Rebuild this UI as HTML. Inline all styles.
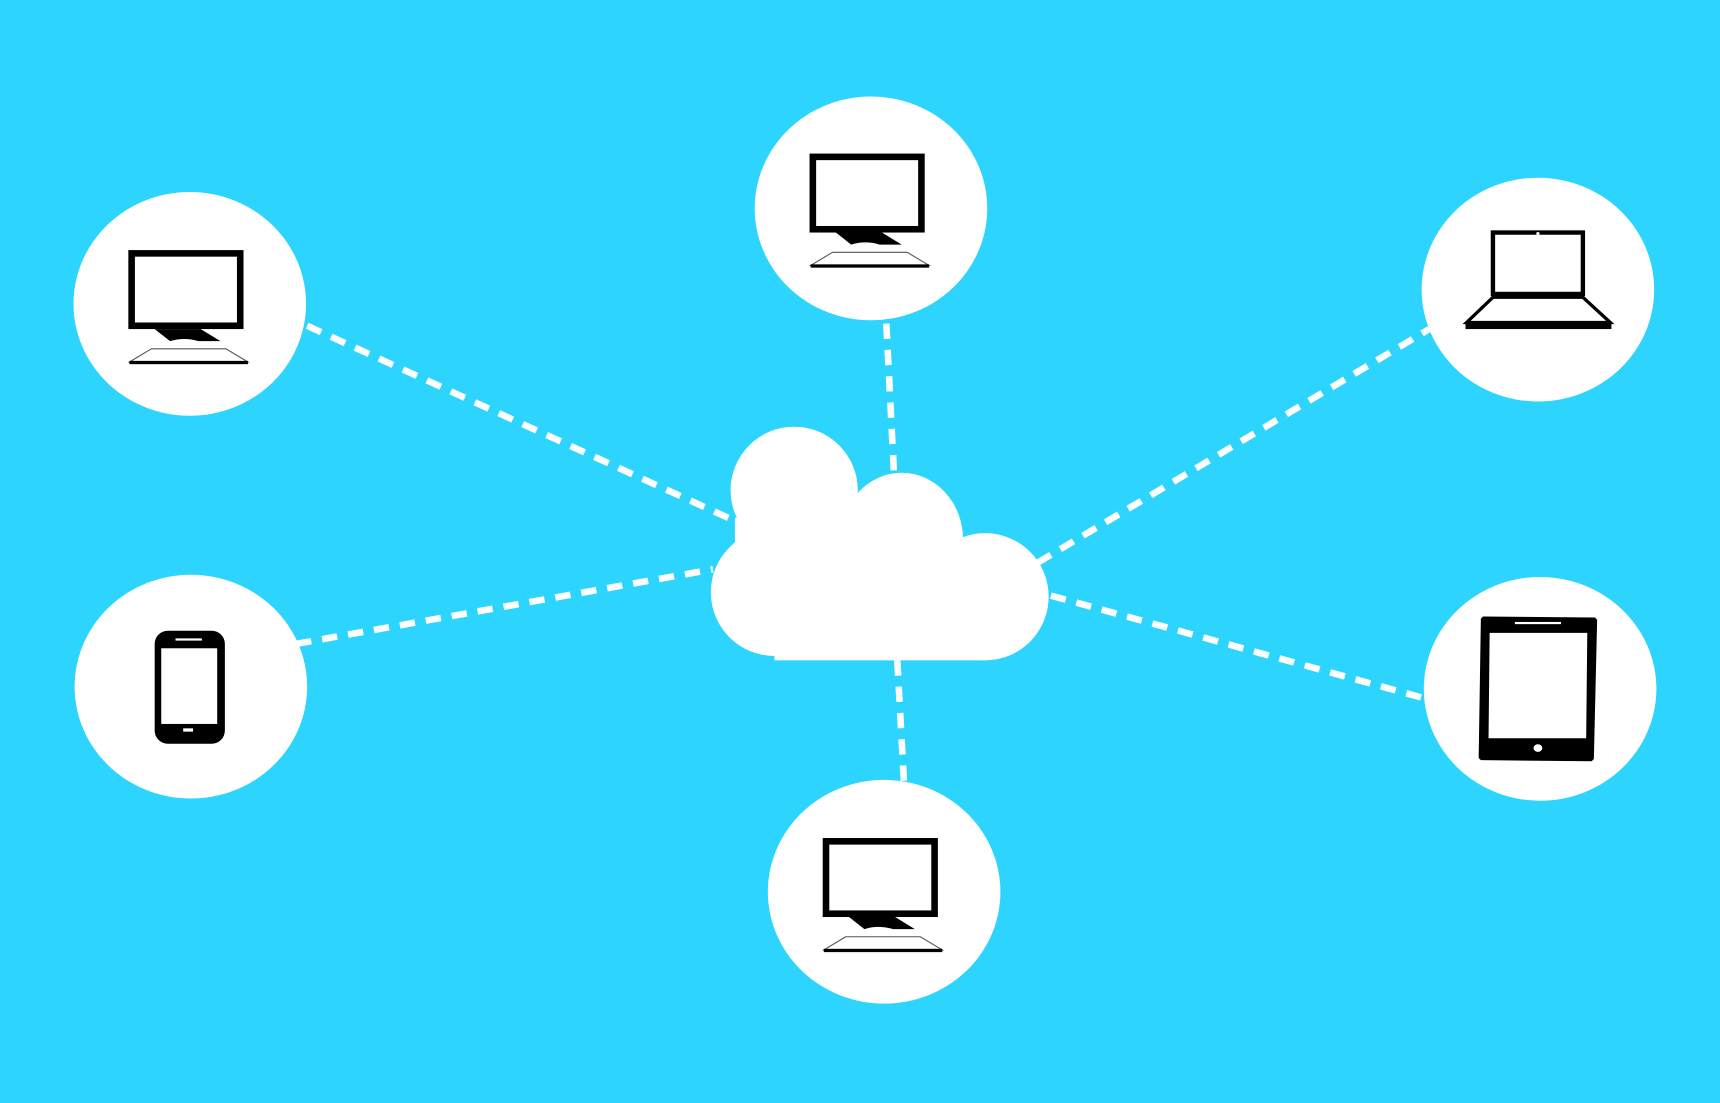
<!DOCTYPE html>
<html><head><style>html,body{margin:0;padding:0;background:#2cd4fe;overflow:hidden}</style></head>
<body>
<svg width="1720" height="1098" viewBox="0 0 1568 1001" preserveAspectRatio="none" xmlns="http://www.w3.org/2000/svg">
<rect width="1568" height="1001" fill="#2cd4fe"/>
<defs>
<g id="mon">
<rect x="-53" y="-47" width="99" height="66" fill="#fff" stroke="#000" stroke-width="6"/>
<path d="M-32 22 L-18 33 Q-5 29 8 33 L28 33 L10 22 Z" fill="#000"/>
<path d="M-35 40 L-55 52 L53 52 L33 40 Z" fill="#fff" stroke="#555" stroke-width="1"/>
<rect x="-55" y="51" width="108" height="3" fill="#000"/>
</g>
</defs>
<g stroke="#fff" stroke-width="6" stroke-dasharray="14 10" fill="none">
<line x1="280" y1="297" x2="668" y2="474"/>
<line x1="270" y1="587" x2="650" y2="519"/>
<line x1="808" y1="295" x2="815" y2="432"/>
<line x1="818" y1="602" x2="824" y2="712"/>
<line x1="946" y1="513" x2="1303" y2="300"/>
<line x1="958" y1="543" x2="1300" y2="637"/>
</g>
<g fill="#fff">
<ellipse cx="794" cy="190" rx="106" ry="102"/>
<ellipse cx="173" cy="277" rx="106" ry="102"/>
<ellipse cx="806" cy="813" rx="106" ry="102"/>
<ellipse cx="1402" cy="264" rx="106" ry="102"/>
<ellipse cx="174" cy="626" rx="106" ry="102"/>
<ellipse cx="1404" cy="628" rx="106" ry="102"/>
<circle cx="724" cy="447" r="58"/>
<ellipse cx="822" cy="492" rx="56" ry="61"/>
<circle cx="898" cy="544" r="58"/>
<circle cx="706" cy="540" r="58"/>
<rect x="706" y="490" width="190" height="112"/>
<path d="M670 472 L700 470 L780 450 L800 470 L800 520 L670 520 Z"/>
</g>
<use href="#mon" x="794" y="190"/>
<use href="#mon" x="173" y="278"/>
<use href="#mon" x="806" y="814"/>
<rect x="1361" y="212" width="82" height="56" fill="#fff" stroke="#000" stroke-width="4"/>
<circle cx="1402" cy="213" r="1.5" fill="#fff"/>
<path d="M1361 271 L1337 294 L1468 294 L1443 271 Z" fill="#fff" stroke="#000" stroke-width="3"/>
<rect x="1336" y="293" width="133" height="7" fill="#000"/>
<rect x="141" y="575" width="64" height="103" rx="12" fill="#000"/>
<rect x="147" y="591" width="51" height="69" fill="#fff"/>
<rect x="160" y="582" width="24" height="2" fill="#fff"/>
<rect x="167" y="664" width="9" height="3" fill="#fff"/>
<path d="M1352 562 L1454 563 L1456 565 L1453 692 L1451 694 L1350 693 L1348 691 L1350 564 Z" fill="#000"/>
<path d="M1358 577 L1447 577 L1446 673 L1357 673 Z" fill="#fff"/>
<rect x="1381" y="567" width="42" height="2" fill="#fff"/>
<ellipse cx="1402" cy="682" rx="4" ry="3.5" fill="#fff"/>
</svg>
</body></html>
